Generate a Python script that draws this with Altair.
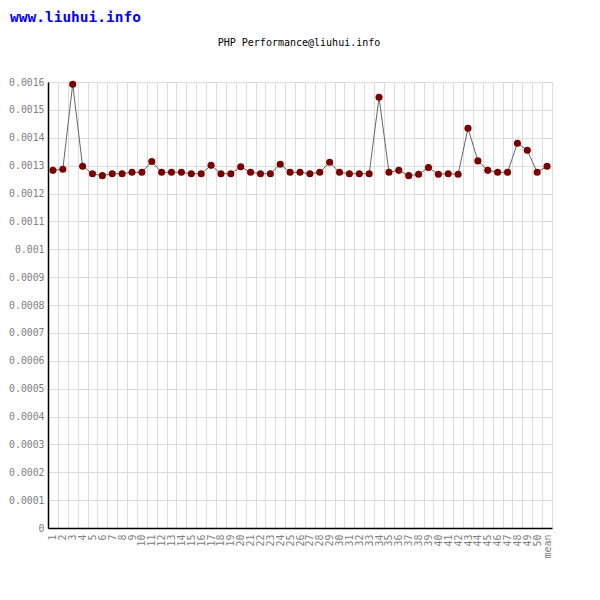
import altair as alt
import pandas as pd

categories = [str(i) for i in range(1, 51)] + ["mean"]
values = [
    0.001283, 0.001287, 0.001592, 0.001298, 0.001271, 0.001264, 0.001271, 0.001271, 0.001276, 0.001276,
    0.001315, 0.001276, 0.001276, 0.001276, 0.001271, 0.001271, 0.001301, 0.001271, 0.001271, 0.001296,
    0.001276, 0.001271, 0.001271, 0.001305, 0.001276, 0.001276, 0.001271, 0.001276, 0.001312, 0.001276,
    0.001271, 0.001271, 0.001271, 0.001545, 0.001276, 0.001283, 0.001264, 0.001269, 0.001293, 0.001269,
    0.001271, 0.001269, 0.001434, 0.001317, 0.001283, 0.001276, 0.001276, 0.001380, 0.001355, 0.001276,
    0.001298,
]
y_ticks = [round(i * 0.0001, 4) for i in range(17)]
site_label = ["www.liuhui.info"]
chart_title = ["PHP Performance@liuhui.info"]

df = pd.DataFrame({"run": categories, "time": values})
FONT = "DejaVu Sans Mono"

x_enc = alt.X(
    "run:N",
    sort=categories,
    title=None,
    scale=alt.Scale(type="band", paddingInner=0, paddingOuter=0),
    axis=alt.Axis(
        tickBand="extent",
        grid=True,
        gridColor="#dcdcdc",
        gridWidth=1,
        ticks=False,
        domainColor="#000000",
        domainWidth=1.5,
        labelAngle=270,
        labelAlign="right",
        labelBaseline="middle",
        labelPadding=6,
        labelFont=FONT,
        labelFontSize=10,
        labelColor="#808080",
    ),
)
y_enc = alt.Y(
    "time:Q",
    title=None,
    scale=alt.Scale(domain=[0, 0.0016], nice=False, zero=True),
    axis=alt.Axis(
        values=y_ticks,
        format="~g",
        grid=True,
        gridColor="#dcdcdc",
        gridWidth=1,
        ticks=False,
        domainColor="#000000",
        domainWidth=1.5,
        labelPadding=4,
        labelFont=FONT,
        labelFontSize=9.8,
        labelColor="#808080",
    ),
)

base = alt.Chart(df)
line = base.mark_line(color="#666666", strokeWidth=1).encode(x=x_enc, y=y_enc)
points = base.mark_point(filled=True, color="#7a0000", size=50, opacity=1, shape="circle").encode(x=x_enc, y=y_enc)

site = alt.Chart(pd.DataFrame({"label": site_label})).mark_text(
    font=FONT, fontSize=14.5, fontWeight="bold", color="#0000ff", align="left", baseline="alphabetic"
).encode(text="label:N", x=alt.value(-38), y=alt.value(-60))

heading = alt.Chart(pd.DataFrame({"label": chart_title})).mark_text(
    font=FONT, fontSize=10, color="#000000", align="center", baseline="alphabetic"
).encode(text="label:N", x=alt.value(251), y=alt.value(-36))

chart = alt.layer(line, points, site, heading).properties(
    width=504,
    height=446,
    autosize="none",
    padding={"left": 40, "top": 74, "right": 40, "bottom": 64},
).configure_view(stroke=None).configure(background="#ffffff")

chart.save("out.html", embed_options={"renderer": "svg", "actions": False})
